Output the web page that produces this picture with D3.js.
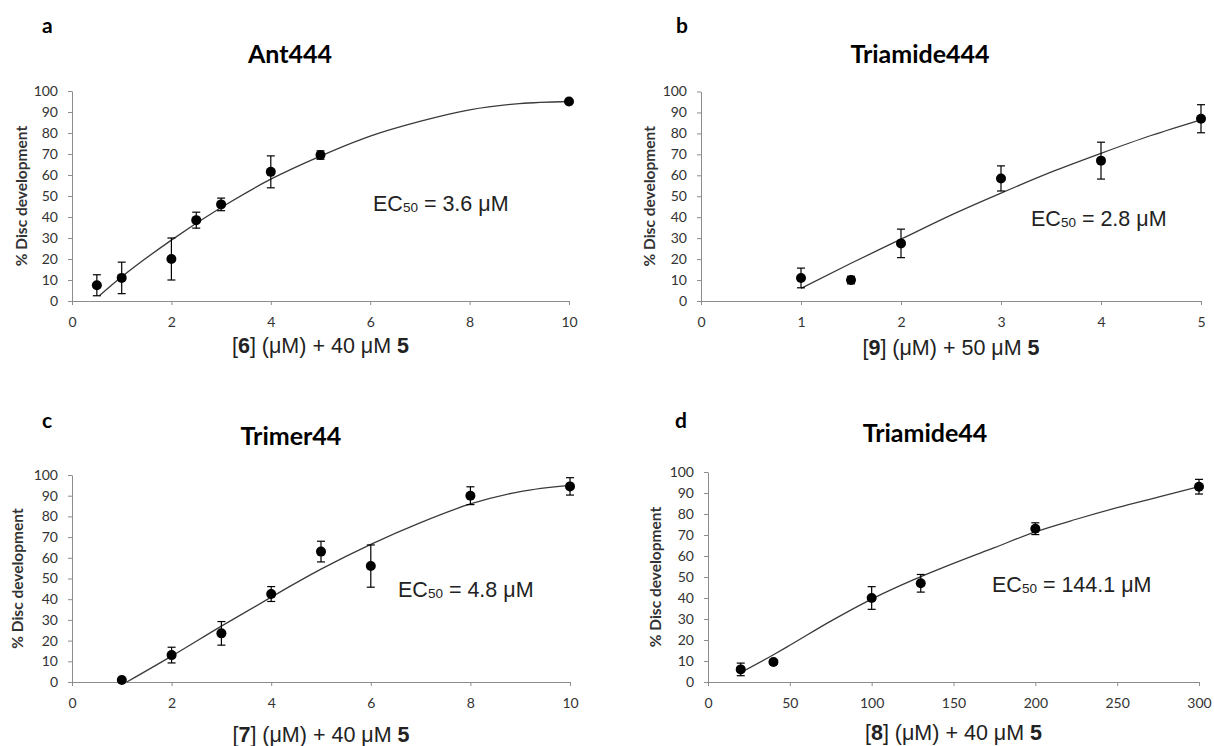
<!DOCTYPE html>
<html>
<head>
<meta charset="utf-8">
<script src="https://cdn.jsdelivr.net/npm/d3@7"></script>
<style>
  body { margin: 0; background: #fff; }
  svg { display: block; }
  .tick text { font-family: Lato, 'Open Sans', sans-serif; font-size: 14px; fill: #333; }
  .domain, .tick line { stroke: #8c8c8c; }
</style>
</head>
<body>
<div id="chart"></div>
<script>
// panel a - Ant444
const antConc = [0.5, 1, 2, 2.5, 3, 4, 5, 10]
const antDev = [7.5, 11, 20, 38.5, 46, 61.5, 69.5, 95]
const antErr = [5, 7.5, 10, 3.8, 3, 7.6, 2, 0.8]
const antFitConc = [0.55, 1, 2, 3, 4, 5, 6, 7, 8, 9, 10]
const antFitDev = [2.5, 11.5, 29, 44.5, 58, 69, 78.5, 85.5, 91, 94, 95]

// panel b - Triamide444
const tri444Conc = [1, 1.5, 2, 3, 4, 5]
const tri444Dev = [11, 10, 27.5, 58.5, 67, 87]
const tri444Err = [4.7, 1.8, 6.8, 6, 8.8, 6.7]
const tri444FitConc = [1, 1.5, 2, 2.5, 3, 3.5, 4, 4.5, 5]
const tri444FitDev = [6, 18, 29.5, 41, 51.5, 61.5, 70.5, 79, 86.5]

// panel c - Trimer44
const trimerConc = [1, 2, 3, 4, 5, 6, 8, 10]
const trimerDev = [1, 13, 23.5, 42.5, 63, 56, 90, 94.5]
const trimerErr = [0, 3.8, 5.7, 3.6, 5, 10.2, 4.3, 4.2]
const trimerFitConc = [1.1, 2, 3, 4, 5, 6, 7, 8, 9, 10]
const trimerFitDev = [0, 12.5, 27, 41, 54.5, 66.5, 77, 86, 92, 95]

// panel d - Triamide44
const tri44Conc = [20, 40, 100, 130, 200, 300]
const tri44Dev = [6, 9.5, 40, 47, 73, 93]
const tri44Err = [3, 1, 5.4, 4.2, 2.8, 3.5]
const tri44FitConc = [20, 40, 50, 75, 100, 125, 150, 175, 200, 225, 250, 275, 300]
const tri44FitDev = [4.5, 13, 17.5, 29, 39.5, 48.5, 56.5, 64, 71.5, 77.5, 83, 88, 93]

const yTicks = [0, 10, 20, 30, 40, 50, 60, 70, 80, 90, 100]
const xTicksTen = [0, 2, 4, 6, 8, 10]
const xTicksFive = [0, 1, 2, 3, 4, 5]
const xTicksThreeHundred = [0, 50, 100, 150, 200, 250, 300]

const letters = ['a', 'b', 'c', 'd']
const titles = ['Ant444', 'Triamide444', 'Trimer44', 'Triamide44']
const compounds = ['6', '9', '7', '8']
const agonistConc = ['40', '50', '40', '40']
const ec50s = ['3.6', '2.8', '4.8', '144.1']
const yTitle = '% Disc development'

const series = [
  { conc: antConc, dev: antDev, err: antErr, fitConc: antFitConc, fitDev: antFitDev, xMax: 10, xTicks: xTicksTen },
  { conc: tri444Conc, dev: tri444Dev, err: tri444Err, fitConc: tri444FitConc, fitDev: tri444FitDev, xMax: 5, xTicks: xTicksFive },
  { conc: trimerConc, dev: trimerDev, err: trimerErr, fitConc: trimerFitConc, fitDev: trimerFitDev, xMax: 10, xTicks: xTicksTen },
  { conc: tri44Conc, dev: tri44Dev, err: tri44Err, fitConc: tri44FitConc, fitDev: tri44FitDev, xMax: 300, xTicks: xTicksThreeHundred },
]

// where each panel sits on the page
const layouts = [
  { x0: 72, x1: 569, yb: 301, yt: 91, letterX: 42, letterY: 33, titleX: 290, titleY: 63, ecX: 373, ecY: 211, yLabX: 22, xLabY: 353 },
  { x0: 701, x1: 1201, yb: 301, yt: 91.5, letterX: 676, letterY: 33, titleX: 920, titleY: 63, ecX: 1031, ecY: 226, yLabX: 650, xLabY: 355 },
  { x0: 72, x1: 570, yb: 682, yt: 475, letterX: 42, letterY: 428, titleX: 291, titleY: 445, ecX: 398, ecY: 597, yLabX: 18, xLabY: 742 },
  { x0: 708, x1: 1199, yb: 682, yt: 472, letterX: 675, letterY: 428, titleX: 925, titleY: 442, ecX: 992, ecY: 592, yLabX: 656, xLabY: 740 },
]

const svg = d3.select('#chart').append('svg')
  .attr('width', 1214)
  .attr('height', 746)
  .style('background', '#fff')

series.forEach((s, i) => {
  const L = layouts[i]
  const x = d3.scaleLinear().domain([0, s.xMax]).range([L.x0, L.x1])
  const y = d3.scaleLinear().domain([0, 100]).range([L.yb, L.yt])
  const g = svg.append('g')

  g.append('g')
    .attr('transform', `translate(0,${L.yb})`)
    .call(d3.axisBottom(x).tickValues(s.xTicks).tickFormat(d3.format('d')).tickSize(4).tickPadding(12).tickSizeOuter(0))

  g.append('g')
    .attr('transform', `translate(${L.x0},0)`)
    .call(d3.axisLeft(y).tickValues(yTicks).tickFormat(d3.format('d')).tickSize(4).tickPadding(10).tickSizeOuter(0))

  // fitted curve
  const line = d3.line()
    .x(d => x(d))
    .y((d, j) => y(s.fitDev[j]))
    .curve(d3.curveMonotoneX)
  g.append('path')
    .attr('d', line(s.fitConc))
    .attr('fill', 'none')
    .attr('stroke', '#3a3a3a')
    .attr('stroke-width', 1.3)

  const pts = s.conc.map((c, j) => ({ c, v: s.dev[j], e: s.err[j] }))

  // error bars
  const eb = g.append('g').attr('stroke', '#000').attr('stroke-width', 1.2)
  pts.filter(d => d.e > 0).forEach(d => {
    eb.append('line').attr('x1', x(d.c)).attr('x2', x(d.c)).attr('y1', y(d.v - d.e)).attr('y2', y(d.v + d.e))
    eb.append('line').attr('x1', x(d.c) - 4).attr('x2', x(d.c) + 4).attr('y1', y(d.v - d.e)).attr('y2', y(d.v - d.e))
    eb.append('line').attr('x1', x(d.c) - 4).attr('x2', x(d.c) + 4).attr('y1', y(d.v + d.e)).attr('y2', y(d.v + d.e))
  })

  g.append('g').selectAll('circle')
    .data(pts)
    .join('circle')
    .attr('cx', d => x(d.c))
    .attr('cy', d => y(d.v))
    .attr('r', 5)
    .attr('fill', '#000')

  // panel letter and title
  g.append('text')
    .attr('x', L.letterX).attr('y', L.letterY)
    .attr('font-family', 'Lato, sans-serif').attr('font-weight', 700).attr('font-size', 21)
    .text(letters[i])
  g.append('text')
    .attr('x', L.titleX).attr('y', L.titleY)
    .attr('text-anchor', 'middle')
    .attr('font-family', 'Lato, sans-serif').attr('font-weight', 700).attr('font-size', 25)
    .text(titles[i])

  // y axis title
  g.append('text')
    .attr('transform', `translate(${L.yLabX},${(L.yb + L.yt) / 2}) rotate(-90)`)
    .attr('text-anchor', 'middle')
    .attr('dy', '0.35em')
    .attr('font-family', 'Lato, sans-serif').attr('font-weight', 700).attr('font-size', 15.5)
    .attr('fill', '#333')
    .text(yTitle)

  // x axis title
  const xl = g.append('text')
    .attr('x', (L.x0 + L.x1) / 2).attr('y', L.xLabY)
    .attr('text-anchor', 'middle')
    .attr('font-family', "'Liberation Sans', Arial, sans-serif").attr('font-size', 21.5)
    .attr('fill', '#222')
  xl.append('tspan').text('[')
  xl.append('tspan').attr('font-weight', 700).text(compounds[i])
  xl.append('tspan').text(`] (\u03bcM) + ${agonistConc[i]} \u03bcM `)
  xl.append('tspan').attr('font-weight', 700).text('5')

  // EC50 annotation
  const ec = g.append('text')
    .attr('x', L.ecX).attr('y', L.ecY)
    .attr('font-family', "'Liberation Sans', Arial, sans-serif").attr('font-size', 21.5)
    .attr('fill', '#222')
  ec.append('tspan').text('EC')
  ec.append('tspan').attr('font-size', 13.5).attr('dy', 1).text('50')
  ec.append('tspan').attr('dy', -1).text(` = ${ec50s[i]} \u03bcM`)
})
</script>
</body>
</html>
